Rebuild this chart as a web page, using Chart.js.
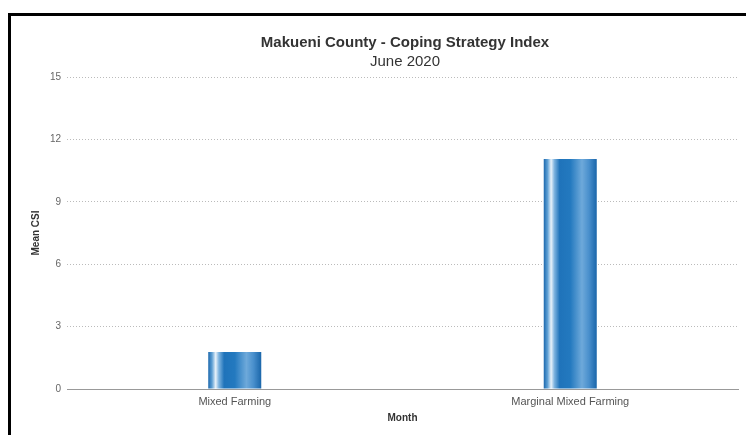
<!DOCTYPE html>
<html>
<head>
<meta charset="utf-8">
<script src="https://cdn.jsdelivr.net/npm/chart.js@4"></script>
<style>
  html, body { margin: 0; padding: 0; background: #fff; overflow: hidden; }
  body { width: 746px; height: 435px; position: relative; }
  #marco {
    position: absolute; left: 8px; top: 13px;
    width: 788px; height: 440px;
    border: 3px solid #000; border-right: none; border-bottom: none;
    background: #fff;
  }
  #grafica { display: block; }
</style>
</head>
<body>
<div id="marco">
  <canvas id="grafica" width="788" height="430"></canvas>
</div>
<script>
// datos
const categorias = ["Mixed Farming", "Marginal Mixed Farming"];
const valoresCSI = [1.78, 11.06];
const marcasY = [0, 3, 6, 9, 12, 15];

const anchoBarra = 0.158;

function degradadoBarra(context) {
    const chart = context.chart;
    const escalaX = chart.scales.x;
    if (context.dataIndex === undefined || !escalaX || !chart.chartArea) {
        return "#1f72b8";
    }
    const centro = escalaX.getPixelForValue(context.dataIndex);
    const mitad = escalaX.width / categorias.length * anchoBarra / 2;
    const g = chart.ctx.createLinearGradient(centro - mitad, 0, centro + mitad, 0);
    g.addColorStop(0, "#1c68ad");
    g.addColorStop(0.07, "#5d9fd4");
    g.addColorStop(0.14, "#e8f2fa");
    g.addColorStop(0.2, "#7db3df");
    g.addColorStop(0.3, "#1f73ba");
    g.addColorStop(0.5, "#2379bf");
    g.addColorStop(0.72, "#6ea9da");
    g.addColorStop(0.85, "#4a90cd");
    g.addColorStop(1, "#1a66aa");
    return g;
}

const ctx = document.getElementById("grafica").getContext("2d");
new Chart(ctx, {
    type: "bar",
    data: {
        labels: categorias,
        datasets: [{
            label: "Mean CSI",
            data: valoresCSI,
            backgroundColor: degradadoBarra,
            borderWidth: 0,
            categoryPercentage: 1,
            barPercentage: anchoBarra
        }]
    },
    options: {
        responsive: false,
        animation: false,
        devicePixelRatio: 1,
        layout: { padding: { left: 19, right: 19, top: 0, bottom: 22 } },
        plugins: {
            legend: { display: false },
            tooltip: { enabled: false },
            title: {
                display: true,
                text: "Makueni County - Coping Strategy Index",
                color: "#333333",
                font: { family: "Liberation Sans", size: 15, weight: "bold" },
                padding: { top: 18, bottom: 1 }
            },
            subtitle: {
                display: true,
                text: "June 2020",
                color: "#333333",
                font: { family: "Liberation Sans", size: 15, weight: "normal" },
                padding: { top: 0, bottom: 6 }
            }
        },
        scales: {
            x: {
                grid: { display: false, drawTicks: false },
                border: { display: true, color: "#999999", width: 1 },
                ticks: {
                    color: "#555555",
                    font: { family: "Liberation Sans", size: 11 },
                    padding: 6,
                    maxRotation: 0
                },
                title: {
                    display: true,
                    text: "Month",
                    color: "#333333",
                    font: { family: "Liberation Sans", size: 10, weight: "bold" },
                    padding: { top: 4, bottom: 0 }
                },
                afterFit: function (escala) { escala.height = 35; }
            },
            y: {
                min: 0,
                max: 15,
                afterBuildTicks: function (escala) {
                    escala.ticks = marcasY.map(v => ({ value: v }));
                },
                grid: {
                    color: "#bbbbbb",
                    lineWidth: 1,
                    drawTicks: false
                },
                border: { display: false, dash: [1, 2] },
                ticks: {
                    color: "#666666",
                    font: { family: "Liberation Sans", size: 10 },
                    padding: 6
                },
                title: {
                    display: true,
                    text: "Mean CSI",
                    color: "#333333",
                    font: { family: "Liberation Sans", size: 10, weight: "bold" },
                    padding: 0
                },
                afterFit: function (escala) { escala.width = 37; }
            },
            // eje vacio a la derecha, solo para reservar el espacio del original
            derecha: {
                position: "right",
                display: true,
                grid: { display: false, drawTicks: false },
                border: { display: false },
                ticks: { display: false },
                afterFit: function (escala) { escala.width = 42; }
            }
        }
    }
});
</script>
</body>
</html>
